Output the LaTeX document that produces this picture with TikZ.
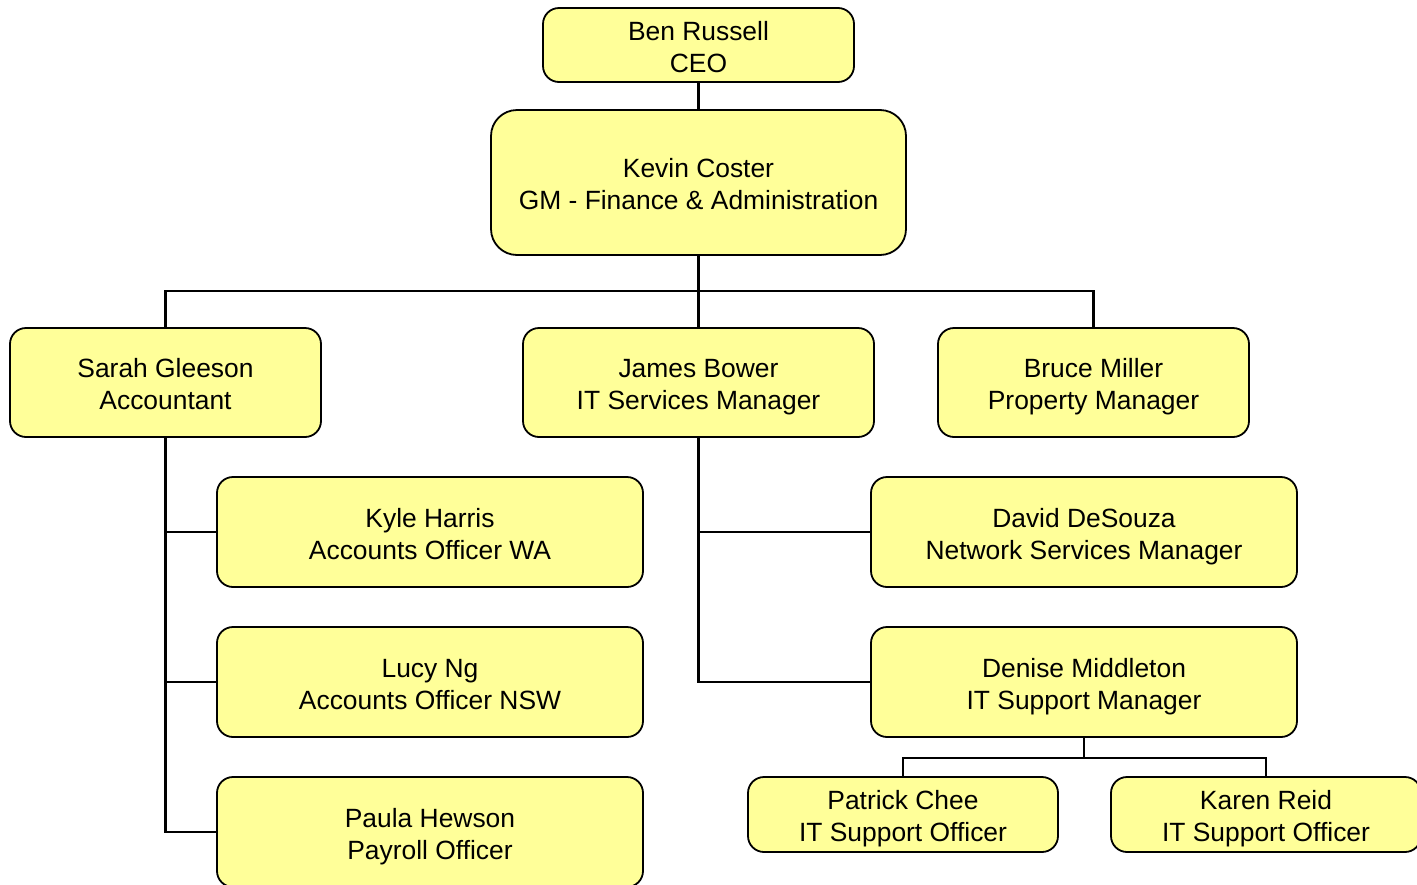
\documentclass[tikz,border=0pt]{standalone}
\usepackage{fontspec}
\setmainfont{Liberation Sans}
\definecolor{boxfill}{RGB}{255,255,153}
\newcommand\twolines[2]{\rule{0pt}{28pt}#1\\#2\rule[-6pt]{0pt}{6pt}}
\begin{document}
\begin{tikzpicture}[x=1pt,y=-1pt,
  person/.style={draw=black, line width=1.8pt, fill=boxfill, rounded corners=16pt,
    align=center, inner sep=0pt, font=\fontsize{26.4}{32}\selectfont},
  link/.style={draw=black, line width=2.6pt}]
\useasboundingbox (0,0) rectangle (1417,884);
\clip (0,0) rectangle (1417,884);
\node[person, minimum width=311pt, minimum height=74pt] (ben) at (698.5,45) {\twolines{Ben Russell}{CEO}};
\node[person, minimum width=415pt, minimum height=145pt, rounded corners=26pt] (kevin) at (698.5,182.5) {\twolines{Kevin Coster}{GM - Finance \& Administration}};
\node[person, minimum width=311pt, minimum height=109pt] (sarah) at (165.5,382.5) {\twolines{Sarah Gleeson}{Accountant}};
\node[person, minimum width=351pt, minimum height=109pt] (james) at (698.5,382.5) {\twolines{James Bower}{IT Services Manager}};
\node[person, minimum width=311pt, minimum height=109pt] (bruce) at (1093.5,382.5) {\twolines{Bruce Miller}{Property Manager}};
\node[person, minimum width=426pt, minimum height=110pt] (kyle) at (430,532) {\twolines{Kyle Harris}{Accounts Officer WA}};
\node[person, minimum width=426pt, minimum height=110pt] (lucy) at (430,682) {\twolines{Lucy Ng}{Accounts Officer NSW}};
\node[person, minimum width=426pt, minimum height=110pt] (paula) at (430,832) {\twolines{Paula Hewson}{Payroll Officer}};
\node[person, minimum width=426pt, minimum height=110pt] (david) at (1084,532) {\twolines{David DeSouza}{Network Services Manager}};
\node[person, minimum width=426pt, minimum height=110pt] (denise) at (1084,682) {\twolines{Denise Middleton}{IT Support Manager}};
\node[person, minimum width=310pt, minimum height=75pt] (patrick) at (903,814.5) {\twolines{Patrick Chee}{IT Support Officer}};
\node[person, minimum width=310pt, minimum height=75pt] (karen) at (1266,814.5) {\twolines{Karen Reid}{IT Support Officer}};
\coordinate (busA) at (698.5,291);
\coordinate (busB) at (1084,758);
\draw[link] (ben.south) -- (kevin.north);
\draw[link] (kevin.south) -- (james.north);
\draw[link] (busA) -| (sarah.north);
\draw[link] (busA) -| (bruce.north);
\draw[link] (sarah.south) |- (paula.west);
\draw[link] (sarah.south |- kyle.west) -- (kyle.west);
\draw[link] (sarah.south |- lucy.west) -- (lucy.west);
\draw[link] (james.south) |- (denise.west);
\draw[link] (james.south |- david.west) -- (david.west);
\draw[link] (denise.south) -- (busB);
\draw[link] (busB) -| (patrick.north);
\draw[link] (busB) -| (karen.north);
\end{tikzpicture}
\end{document}
